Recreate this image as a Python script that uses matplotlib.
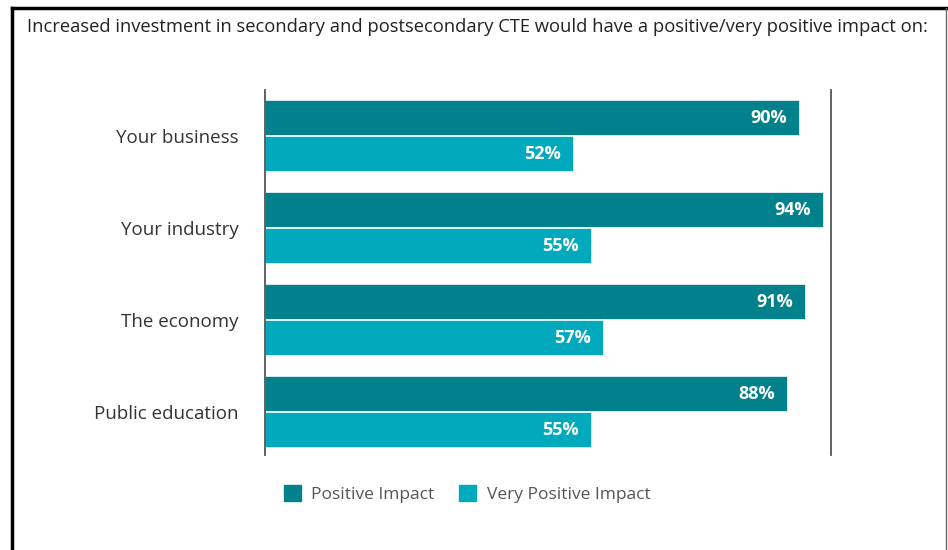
import matplotlib
matplotlib.use("Agg")
import matplotlib.pyplot as plt
import numpy as np
from matplotlib.lines import Line2D
from matplotlib.patches import Patch

plt.rcParams['font.family'] = ['Open Sans', 'DejaVu Sans']

# data
categories = ["Your business", "Your industry", "The economy", "Public education"]
positive = [90, 94, 91, 88]
very_positive = [52, 55, 57, 55]
series_names = ["Positive Impact", "Very Positive Impact"]
title = "Increased investment in secondary and postsecondary CTE would have a positive/very positive impact on:"

dark = "#00818c"
light = "#00aabc"

fig = plt.figure(figsize=(9.48, 5.5), dpi=100)
ax = fig.add_axes([0.2795, 0.1727, 0.597, 0.6636])

y = np.arange(len(categories))
h = 0.39
ax.barh(y - h / 2, positive, height=h, color=dark, edgecolor="white", linewidth=1.2)
ax.barh(y + h / 2, very_positive, height=h, color=light, edgecolor="white", linewidth=1.2)

for yi, p, v in zip(y, positive, very_positive):
    ax.text(p - 2.2, yi - h / 2, f"{p}%", ha="right", va="center", color="white",
            fontsize=13, fontweight="bold")
    ax.text(v - 2.2, yi + h / 2, f"{v}%", ha="right", va="center", color="white",
            fontsize=13, fontweight="bold")

ax.set_xlim(0, 95.2)
ax.set_ylim(3.47, -0.5)
ax.set_yticks(y)
ax.set_yticklabels(categories, fontsize=13.5, color="#333333")
ax.tick_params(axis="y", length=0, pad=19)
ax.set_xticks([])
for s in ["top", "bottom"]:
    ax.spines[s].set_visible(False)
ax.spines["left"].set_color("#555555")
ax.spines["right"].set_color("#555555")
ax.spines["left"].set_linewidth(1.3)
ax.spines["right"].set_linewidth(1.3)

fig.text(27 / 948, 1 - 27 / 550, title, fontsize=13.2, color="#222222", va="center", ha="left")

handles = [Patch(facecolor=dark, edgecolor=dark), Patch(facecolor=light, edgecolor=light)]
fig.legend(handles, series_names, loc="center left", bbox_to_anchor=(268 / 948, 1 - 494 / 550),
           ncol=2, frameon=False, fontsize=12.5, labelcolor="#555555",
           handlelength=1.0, handleheight=1.0, columnspacing=1.4, handletextpad=0.6)

# frame around the figure
fig.add_artist(Line2D([12 / 948, 12 / 948], [0, 1 - 8 / 550], color="black", linewidth=2.5))
fig.add_artist(Line2D([12 / 948, 946 / 948], [1 - 8 / 550, 1 - 8 / 550], color="black", linewidth=2.5))
fig.add_artist(Line2D([946 / 948, 946 / 948], [0, 1 - 8 / 550], color="#666666", linewidth=1))

fig.savefig("out.png", dpi=100)
